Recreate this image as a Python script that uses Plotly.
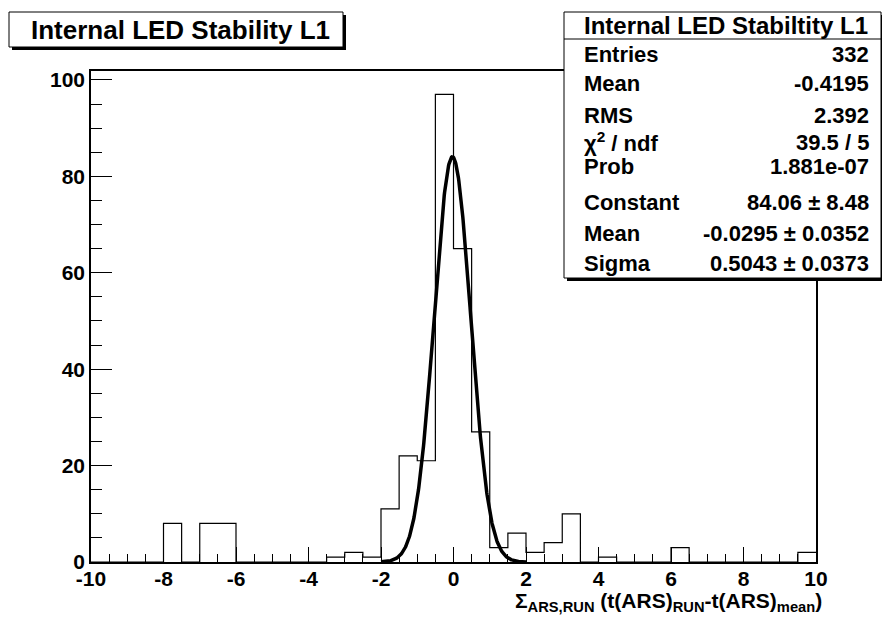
import numpy as np
import plotly.graph_objects as go

# ---- data ----
bin_edges_lo = -10.0
bin_width = 0.5
counts = [0, 0, 0, 0, 8, 0, 8, 8, 0, 0,
          0, 0, 0, 1, 2, 1, 11, 22, 21, 97,
          65, 27, 3, 6, 2, 4, 10, 0, 1, 0,
          0, 0, 3, 0, 0, 0, 0, 0, 0, 2]
fit_constant = 84.06
fit_mean = -0.0295
fit_sigma = 0.5043
fit_range = [-2.0, 2.0]

stat_labels = ["Entries", "Mean", "RMS", "χ<sup>2</sup> / ndf", "Prob",
               "Constant", "Mean", "Sigma"]
stat_values = ["332", "-0.4195", "2.392", "39.5 / 5", "1.881e-07",
               "84.06 ± 8.48", "-0.0295 ± 0.0352", "0.5043 ± 0.0373"]
stat_rows_px = [55, 84, 115, 142, 166, 202, 233, 263]

x_ticks = list(range(-10, 11, 2))
y_ticks = list(range(0, 101, 20))

# ---- histogram outline ----
n = len(counts)
edges = [bin_edges_lo + i * bin_width for i in range(n + 1)]
step_x = edges
step_y = counts + [counts[-1]]

# ---- fit curve ----
xf = np.linspace(fit_range[0], fit_range[1], 400)
yf = fit_constant * np.exp(-0.5 * ((xf - fit_mean) / fit_sigma) ** 2)

W, H = 882, 617
L, R, T, B = 91, 66, 71, 55
pw, ph = W - L - R, H - T - B


def px_x(p):
    return (p - L) / pw


def px_y(p):
    return (H - B - p) / ph


FONT = "Liberation Sans"

fig = go.Figure()
fig.add_trace(go.Scatter(x=step_x, y=step_y, mode="lines",
                         line=dict(shape="hv", color="black", width=1.2),
                         hoverinfo="skip", showlegend=False))
fig.add_trace(go.Scatter(x=xf, y=yf, mode="lines",
                         line=dict(color="black", width=3.5),
                         hoverinfo="skip", showlegend=False))

ymax = max(counts) * 1.05

fig.update_layout(
    width=W, height=H,
    margin=dict(l=L, r=R, t=T, b=B),
    paper_bgcolor="white", plot_bgcolor="white",
    font=dict(family=FONT, color="black"),
    showlegend=False,
    xaxis=dict(range=[-10, 10], tickvals=x_ticks, ticktext=[str(v) for v in x_ticks],
               ticks="inside", ticklen=15, tickwidth=1, tickcolor="black",
               minor=dict(dtick=0.5, ticks="inside", ticklen=8, tickcolor="black", tickwidth=1),
               showline=True, linecolor="black", linewidth=1.5, mirror=True,
               showgrid=False, zeroline=False, ticklabelstandoff=-3,
               tickfont=dict(family=FONT, size=21, weight="bold", color="black")),
    yaxis=dict(range=[0, ymax], tickvals=y_ticks, ticktext=[str(v) for v in y_ticks],
               ticks="inside", ticklen=21, tickwidth=1, tickcolor="black",
               minor=dict(dtick=5, ticks="inside", ticklen=11, tickcolor="black", tickwidth=1),
               showline=True, linecolor="black", linewidth=1.5, mirror=True,
               showgrid=False, zeroline=False,
               tickfont=dict(family=FONT, size=21, weight="bold", color="black")),
)

shapes = []
# title box with shadow
shapes.append(dict(type="rect", xref="paper", yref="paper",
                   x0=px_x(12), x1=px_x(346), y0=px_y(50), y1=px_y(15),
                   fillcolor="black", line=dict(width=0), layer="above"))
shapes.append(dict(type="rect", xref="paper", yref="paper",
                   x0=px_x(9), x1=px_x(343), y0=px_y(47), y1=px_y(12),
                   fillcolor="white", line=dict(color="black", width=1), layer="above"))
# stats box with shadow
shapes.append(dict(type="rect", xref="paper", yref="paper",
                   x0=px_x(567), x1=px_x(884), y0=px_y(281), y1=px_y(15),
                   fillcolor="black", line=dict(width=0), layer="above"))
shapes.append(dict(type="rect", xref="paper", yref="paper",
                   x0=px_x(564), x1=px_x(881), y0=px_y(278), y1=px_y(12),
                   fillcolor="white", line=dict(color="black", width=1), layer="above"))
shapes.append(dict(type="line", xref="paper", yref="paper",
                   x0=px_x(564), x1=px_x(881), y0=px_y(39), y1=px_y(39),
                   line=dict(color="black", width=1), layer="above"))
fig.update_layout(shapes=shapes)

ann = []
ann.append(dict(xref="paper", yref="paper", x=px_x(180), y=px_y(30),
                text="<b>Internal LED Stability L1</b>", showarrow=False,
                xanchor="center", yanchor="middle",
                font=dict(family=FONT, size=26, color="black")))
ann.append(dict(xref="paper", yref="paper", x=px_x(726), y=px_y(25),
                text="<b>Internal LED Stabiltity L1</b>", showarrow=False,
                xanchor="center", yanchor="middle",
                font=dict(family=FONT, size=24, color="black")))
for lab, val, py in zip(stat_labels, stat_values, stat_rows_px):
    ann.append(dict(xref="paper", yref="paper", x=px_x(582), y=px_y(py),
                    text="<b>" + lab + "</b>", showarrow=False,
                    xanchor="left", yanchor="middle",
                    font=dict(family=FONT, size=22, color="black")))
    ann.append(dict(xref="paper", yref="paper", x=px_x(871), y=px_y(py),
                    text="<b>" + val + "</b>", showarrow=False,
                    xanchor="right", yanchor="middle",
                    font=dict(family=FONT, size=22, color="black")))
# x-axis title
ann.append(dict(xref="paper", yref="paper", x=px_x(824), y=px_y(602),
                text="<b>Σ<sub>ARS,RUN</sub> (t(ARS)<sub>RUN</sub>-t(ARS)<sub>mean</sub>)</b>",
                showarrow=False, xanchor="right", yanchor="middle",
                font=dict(family=FONT, size=21, color="black")))
fig.update_layout(annotations=ann)

fig.write_html("out.html", config={"displayModeBar": False},
               post_script="document.body.style.margin='0';document.body.style.padding='0';")
